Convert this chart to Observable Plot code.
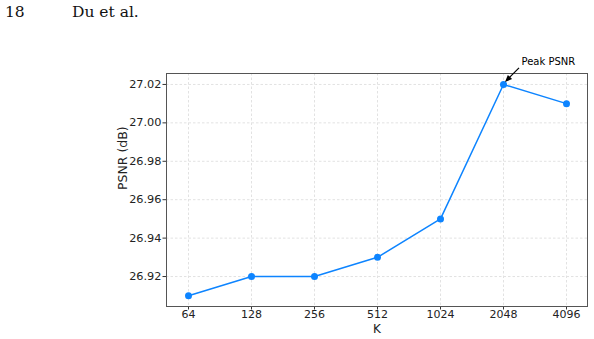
<!DOCTYPE html>
<html><head><meta charset="utf-8">
<script src="https://cdn.jsdelivr.net/npm/d3@7"></script>
<script src="https://cdn.jsdelivr.net/npm/@observablehq/plot@0.6"></script>
<style>
body{margin:0;background:#fff;}
#wrap{position:relative;width:594px;height:339px;}
#hdr{position:absolute;left:5px;top:3px;font-family:"DejaVu Serif","Liberation Serif",serif;font-size:15.5px;color:#111;}
#hdr span{position:absolute;white-space:nowrap;}
</style></head>
<body><div id="wrap"><div id="hdr"><span style="left:0">18</span><span style="left:67px">Du et al.</span></div></div>
<script>
const kLabels = ["64","128","256","512","1024","2048","4096"];
const psnr = [26.91, 26.92, 26.92, 26.93, 26.95, 27.02, 27.01];
const yTicks = [26.92, 26.94, 26.96, 26.98, 27.00, 27.02];
const annotation = "Peak PSNR";
const xTitle = "K";
const yTitle = "PSNR (dB)";

const data = kLabels.map((k, i) => ({k, v: psnr[i]}));
const peakIdx = psnr.indexOf(Math.max(...psnr));
const peak = data[peakIdx];
const color = "#0d84ff";

const arrowMark = (index, scales) => {
  const px = scales.x(peak.k), py = scales.y(peak.v);
  const g = d3.create("svg:g");
  const x1 = px + 16, y1 = py - 16, x2 = px + 2, y2 = py - 2;
  g.append("line").attr("x1", x1).attr("y1", y1).attr("x2", x2 + 4).attr("y2", y2 - 4)
    .attr("stroke", "#000").attr("stroke-width", 1.2);
  const ang = Math.atan2(y2 - y1, x2 - x1), L = 7, W = 3;
  const bx = x2 - L*Math.cos(ang), by = y2 - L*Math.sin(ang);
  const nx = -Math.sin(ang)*W, ny = Math.cos(ang)*W;
  g.append("path").attr("d", `M${x2},${y2}L${bx+nx},${by+ny}L${bx-nx},${by-ny}Z`).attr("fill", "#000");
  return g.node();
};

const chart = Plot.plot({
  width: 594, height: 339,
  marginLeft: 166, marginRight: 7, marginTop: 73, marginBottom: 33,
  style: {fontFamily: "DejaVu Sans, sans-serif", fontSize: "11px", color: "#222", background: "#fff"},
  x: {type: "point", domain: kLabels, padding: 0.3},
  y: {domain: [26.9044, 27.0257]},
  marks: [
    Plot.gridX(kLabels, {stroke: "#e2e2e2", strokeOpacity: 1, strokeDasharray: "2.5,2"}),
    Plot.gridY(yTicks, {stroke: "#e2e2e2", strokeOpacity: 1, strokeDasharray: "2.5,2"}),
    Plot.axisX(kLabels, {tickSize: 3.5, tickPadding: 0.5, label: null, fontSize: 11, stroke: "#333"}),
    Plot.axisY(yTicks, {tickSize: 3.5, tickPadding: 1.5, label: null, tickFormat: d => d.toFixed(2), fontSize: 11.3, stroke: "#333"}),
    Plot.frame({stroke: "#555", strokeWidth: 1}),
    Plot.line(data, {x: "k", y: "v", stroke: color, strokeWidth: 1.5}),
    Plot.dot(data, {x: "k", y: "v", fill: color, r: 3.5}),
    Plot.text([annotation], {x: () => peak.k, y: () => peak.v, text: d => d, dx: 18, dy: -23, textAnchor: "start", fontSize: 10, fill: "#000"}),
    arrowMark,
    Plot.text([xTitle], {frameAnchor: "bottom", dy: 22.5, lineAnchor: "middle", text: d => d, fontSize: 12, fill: "#222"}),
    Plot.text([yTitle], {frameAnchor: "left", dx: -44, rotate: -90, lineAnchor: "middle", text: d => d, fontSize: 12.5, fill: "#222"})
  ]
});
document.getElementById("wrap").prepend(chart);
chart.style.position = "absolute"; chart.style.left = "0"; chart.style.top = "0";
</script></body></html>
